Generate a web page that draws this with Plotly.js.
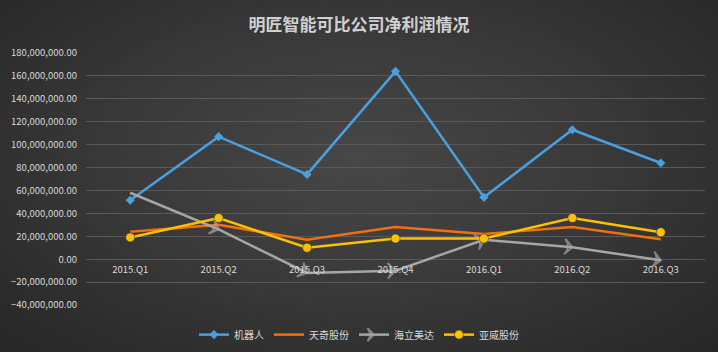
<!DOCTYPE html>
<html><head><meta charset="utf-8">
<script src="https://cdn.plot.ly/plotly-3.0.1.min.js"></script>
<style>
html,body{margin:0;padding:0;}
#chart{width:718px;height:352px;background:radial-gradient(ellipse at 50% 45%, #474747 0%, #3a3a3a 45%, #262626 100%);}
</style></head>
<body><div id="chart"></div>
<script>
const categories = ['2015.Q1','2015.Q2','2015.Q3','2015.Q4','2016.Q1','2016.Q2','2016.Q3'];
const robot   = [51500000, 107000000, 74000000, 164000000, 54000000, 113000000, 84000000];
const tianqi  = [24000000, 30000000, 17000000, 28000000, 22000000, 28000000, 17500000];
const hailimd = [58000000, 26000000, -12000000, -10000000, 17000000, 10500000, -1000000];
const yawei   = [19000000, 36000000, 10000000, 18000000, 18000000, 36000000, 23500000];
const names = ['机器人','天奇股份','海立美达','亚威股份'];

const font = '"Noto Sans CJK SC", "Liberation Sans", sans-serif';
const yMin = -40000000, yMax = 180000000;
const zeroPos = (0 - yMin)/(yMax - yMin);

const traces = [
  {x: categories, y: robot, name: names[0], type: 'scatter', mode: 'lines+markers',
   line: {color: '#4a9fe0', width: 2.5}, marker: {symbol: 'diamond', size: 7, color: '#4a9fe0'}},
  {x: categories, y: tianqi, name: names[1], type: 'scatter', mode: 'lines',
   line: {color: '#f07010', width: 2.5}},
  {x: categories, y: hailimd, name: names[2], type: 'scatter', mode: 'lines+markers',
   line: {color: '#a6a6a6', width: 2.5},
   marker: {symbol: 'arrow-wide-open', angleref: 'previous', size: categories.map((c,i)=> i===0?0:11),
            color: '#a6a6a6', line: {color: '#a6a6a6', width: 2}}},
  {x: categories, y: yawei, name: names[3], type: 'scatter', mode: 'lines+markers',
   line: {color: '#ffc000', width: 2.5},
   marker: {symbol: 'circle', size: 9, color: '#ffc000', line: {color: '#1f2a50', width: 0.5}}}
];

const layout = {
  width: 718, height: 352,
  paper_bgcolor: 'rgba(0,0,0,0)', plot_bgcolor: 'rgba(0,0,0,0)',
  margin: {l: 86, r: 13, t: 53, b: 47, autoexpand: false},
  font: {family: font, color: '#d9d9d9', size: 9},
  title: {text: '<b>明匠智能可比公司净利润情况</b>', x: 0.5, xanchor: 'center', y: 0.93, yanchor: 'middle',
          font: {family: font, size: 17, color: '#d0d0d0'}},
  xaxis: {type: 'category', range: [-0.5, 6.5], showgrid: false, zeroline: false, showline: false,
          anchor: 'free', position: zeroPos, ticks: '', tickfont: {size: 9.5, color: '#d9d9d9'},
          ticklabelstandoff: 3},
  yaxis: {range: [yMin, yMax], dtick: 20000000, tickformat: ',.2f', showgrid: true,
          gridcolor: '#595959', gridwidth: 1, zeroline: true, zerolinecolor: '#595959', zerolinewidth: 1,
          domain: [0, 1], tickfont: {size: 9.5, color: '#d9d9d9'}, ticks: '', showline: false,
          ticklabelstandoff: 8},
  showlegend: true,
  legend: {orientation: 'h', xref: 'container', x: 0.5, xanchor: 'center', y: -0.06, yanchor: 'top',
           itemwidth: 30, font: {size: 10, color: '#d9d9d9'}, bgcolor: 'rgba(0,0,0,0)'}
};

Plotly.newPlot('chart', traces, layout, {displayModeBar: false, staticPlot: true});
</script></body></html>
